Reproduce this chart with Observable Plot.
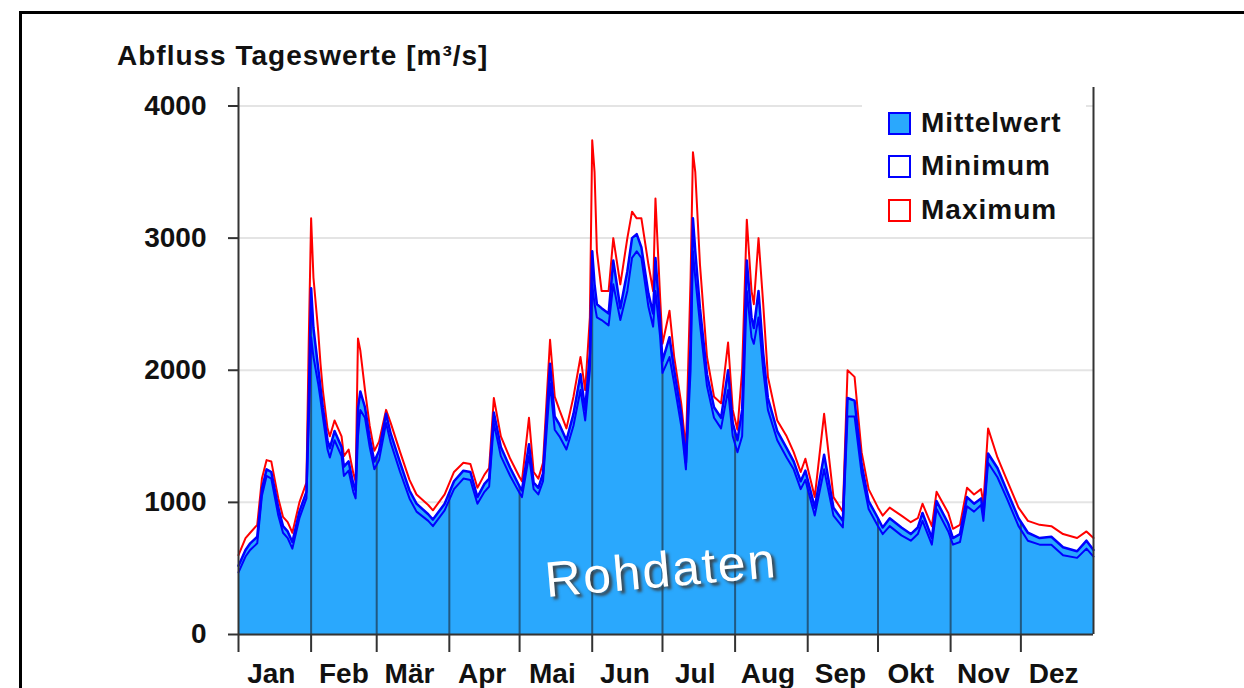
<!DOCTYPE html>
<html>
<head>
<meta charset="utf-8">
<script src="https://cdn.jsdelivr.net/npm/d3@7"></script>
<script src="https://cdn.jsdelivr.net/npm/@observablehq/plot@0.6"></script>
<style>
  html, body { margin: 0; padding: 0; background: #fff; overflow: hidden; }
  #wrap { position: relative; width: 1244px; height: 688px; overflow: hidden; background: #fff;
          font-family: "Liberation Sans", Arial, sans-serif; }
  #frame { position: absolute; left: 19px; top: 11px; width: 1400px; height: 900px;
           border-top: 3px solid #000; border-left: 3px solid #000; }
  #chart { position: absolute; left: 0; top: 0; }
  #title { position: absolute; left: 117px; top: 42px; font-size: 28px; font-weight: bold;
           line-height: 1; color: #111; white-space: nowrap; letter-spacing: 1px; }
  #legend { position: absolute; left: 862px; top: 94px; width: 224px; height: 138px; background: #fff; }
  .item { position: absolute; left: 26px; height: 30px; display: flex; align-items: center;
          font-size: 28px; font-weight: bold; color: #111; white-space: nowrap; letter-spacing: 1px; }
  .sw { width: 23px; height: 23px; margin-right: 10px; box-sizing: border-box; }
  #watermark { position: absolute; left: 661px; top: 570px; transform: translate(-50%, -50%) rotate(-5deg);
               font-size: 50px; color: #fff; white-space: nowrap; letter-spacing: 2px;
               text-shadow: 3px 3px 3px rgba(60,60,60,0.9); }
</style>
</head>
<body>
<div id="wrap">
  <div id="frame"></div>
  <div id="chart"></div>
  <div id="title"></div>
  <div id="legend"></div>
  <div id="watermark"></div>
</div>
<script>
// ---- data (day of year) ----
const days = [0,3,5,8,10,12,14,17,19,21,23,26,29,30,31,32,34,35,36,38,39,41,44,45,47,49,50,51,52,54,56,58,60,63,65,69,73,76,81,83,88,92,96,99,102,105,107,109,112,116,120,121,124,126,128,130,133,135,137,140,143,146,148,150,151,152,153,155,158,160,163,166,168,170,172,175,177,178,180,181,184,186,189,191,193,194,195,197,200,203,206,209,211,213,215,217,219,220,222,224,226,230,234,237,240,242,246,250,254,258,260,263,266,269,273,275,278,283,287,290,292,296,298,303,305,308,311,314,317,318,320,324,328,333,337,342,347,352,358,362,365];
const meanVals = [520,640,690,740,1100,1250,1230,960,820,780,700,930,1080,1790,2620,2320,2020,1870,1720,1470,1410,1540,1420,1270,1310,1140,1090,1710,1840,1720,1490,1310,1390,1670,1520,1300,1090,990,910,870,990,1160,1240,1230,1040,1140,1180,1680,1420,1260,1120,1090,1440,1150,1110,1220,2050,1650,1590,1470,1670,1970,1700,2130,2900,2650,2500,2470,2430,2830,2470,2750,3000,3030,2930,2580,2430,2850,2370,2070,2250,2000,1670,1300,2200,3150,2900,2470,1970,1720,1640,2000,1600,1470,1700,2830,2400,2320,2600,2130,1790,1540,1410,1310,1160,1240,960,1360,960,860,1790,1770,1290,1010,880,810,880,810,760,810,920,730,1010,840,730,760,1040,990,1030,910,1370,1260,1090,880,770,730,740,660,630,710,640];
const minVals = [470,590,640,690,1050,1200,1180,900,770,730,650,880,1030,1600,2250,2100,1900,1780,1650,1400,1340,1470,1350,1200,1240,1080,1030,1500,1700,1640,1420,1250,1320,1600,1450,1230,1030,930,860,820,940,1100,1180,1170,990,1080,1120,1600,1350,1200,1070,1040,1350,1100,1060,1160,1900,1550,1500,1400,1580,1850,1620,2000,2650,2500,2400,2380,2340,2650,2380,2600,2850,2900,2850,2480,2330,2600,2250,1980,2100,1900,1580,1250,2000,2900,2700,2350,1880,1640,1560,1850,1500,1380,1500,2600,2250,2200,2400,2000,1700,1470,1340,1250,1100,1170,900,1250,900,810,1650,1650,1220,950,820,760,820,750,710,760,860,680,950,780,680,700,970,930,980,860,1300,1190,1030,820,710,680,680,600,580,650,590];
const maxVals = [600,730,770,830,1180,1320,1310,1030,890,850,770,1000,1150,2230,3150,2700,2300,2050,1850,1560,1500,1620,1500,1350,1400,1220,1160,2240,2150,1850,1580,1390,1460,1700,1600,1380,1170,1060,980,940,1060,1230,1300,1290,1110,1210,1260,1790,1500,1330,1190,1160,1640,1230,1180,1300,2230,1800,1700,1560,1800,2100,1850,2400,3740,3500,2900,2600,2600,3000,2650,3000,3200,3150,3150,2800,2600,3300,2550,2200,2450,2100,1750,1400,2700,3650,3500,2800,2100,1800,1750,2210,1700,1550,2000,3140,2600,2500,3000,2500,1950,1620,1500,1380,1230,1330,1040,1670,1040,930,2000,1950,1380,1100,960,900,960,900,850,880,990,820,1080,920,800,830,1110,1060,1100,990,1560,1340,1170,960,860,830,820,760,730,780,730];

const monthNames = ["Jan","Feb","Mär","Apr","Mai","Jun","Jul","Aug","Sep","Okt","Nov","Dez"];
const monthStarts = [0,31,59,90,120,151,181,212,243,273,304,334];
const yTicks = [0,1000,2000,3000,4000];
const yMax = 4140;
const xMax = 365;

const titleText = "Abfluss Tageswerte [m³/s]";
const legendItems = [
  {label: "Mittelwert", fill: "#2aa8fd", stroke: "#0000ff"},
  {label: "Minimum", fill: "#ffffff", stroke: "#0000ff"},
  {label: "Maximum", fill: "#ffffff", stroke: "#ff0000"}
];
const watermarkText = "Rohdaten";

// ---- build ----
const data = days.map((d, i) => ({day: d, mean: meanVals[i], min: minVals[i], max: maxVals[i]}));
const meanAt = d3.scaleLinear().domain(days).range(meanVals);
const monthLabels = monthStarts.map((s, i) => ({mid: s + 14, name: monthNames[i]}));

const chart = Plot.plot({
  width: 1244,
  height: 688,
  marginLeft: 238,
  marginRight: 151,
  marginTop: 87,
  marginBottom: 54,
  x: {domain: [0, xMax]},
  y: {domain: [0, yMax]},
  style: {fontFamily: "'Liberation Sans', Arial, sans-serif", fontSize: "28px", fontWeight: "bold", color: "#111", background: "transparent", overflow: "visible"},
  marks: [
    Plot.gridY(yTicks, {stroke: "#e4e4e4", strokeOpacity: 1, strokeWidth: 2}),
    Plot.areaY(data, {x: "day", y: "mean", fill: "#2aa8fd"}),
    Plot.ruleX(monthStarts.slice(1), {y1: 0, y2: d => meanAt(d), stroke: "#1c2e40", strokeOpacity: 0.65, strokeWidth: 2}),
    Plot.lineY(data, {x: "day", y: "max", stroke: "#ff0000", strokeWidth: 2}),
    Plot.lineY(data, {x: "day", y: "min", stroke: "#0000ff", strokeWidth: 2}),
    Plot.lineY(data, {x: "day", y: "mean", stroke: "#0000ff", strokeWidth: 2.5}),
    Plot.ruleX([0, xMax], {stroke: "#333", strokeWidth: 2}),
    Plot.ruleY([0], {stroke: "#333", strokeWidth: 2}),
    Plot.axisY(yTicks, {tickSize: 10, tickPadding: 22, label: null, tickFormat: d => String(d), stroke: "#333", strokeWidth: 2, fill: "#111", fontSize: 28, fontWeight: "bold", style: {letterSpacing: "1.5px"}}),
    Plot.axisX(monthStarts, {tickSize: 18, tickFormat: () => "", label: null, stroke: "#333", strokeWidth: 2}),
    Plot.text(monthLabels, {x: "mid", frameAnchor: "bottom", dy: 48, text: "name", fill: "#111", fontSize: 28, fontWeight: "bold"})
  ]
});
document.getElementById("chart").appendChild(chart);
document.getElementById("title").textContent = titleText;
document.getElementById("watermark").textContent = watermarkText;

const legend = document.getElementById("legend");
const rowCenters = [29, 72, 116];
legendItems.forEach((it, i) => {
  const row = document.createElement("div");
  row.className = "item";
  row.style.top = (rowCenters[i] - 15) + "px";
  const sw = document.createElement("div");
  sw.className = "sw";
  sw.style.background = it.fill;
  sw.style.border = "2px solid " + it.stroke;
  const tx = document.createElement("span");
  tx.textContent = it.label;
  row.appendChild(sw);
  row.appendChild(tx);
  legend.appendChild(row);
});
</script>
</body>
</html>
